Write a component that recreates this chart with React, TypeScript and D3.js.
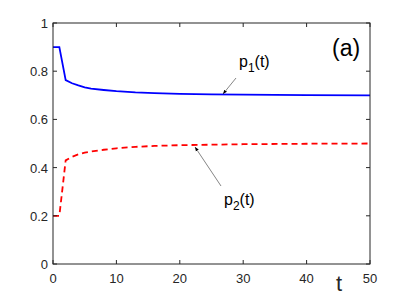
import React from "react";
import * as d3 from "d3";

// time points
const tValues = [0, 1, 2, 3, 4, 5, 6, 8, 10, 13, 16, 20, 25, 30, 40, 50];
const p1Values = [0.9, 0.9, 0.763, 0.75, 0.741, 0.733, 0.728, 0.722, 0.717, 0.712, 0.709, 0.706, 0.704, 0.703, 0.701, 0.7];
const p2Values = [0.2, 0.2, 0.43, 0.445, 0.455, 0.462, 0.467, 0.474, 0.48, 0.486, 0.49, 0.493, 0.495, 0.497, 0.499, 0.5];
const xTicks = [0, 10, 20, 30, 40, 50];
const yTicks = [0, 0.2, 0.4, 0.6, 0.8, 1];

const width = 409;
const height = 298;
const margin = { left: 53, right: 39, top: 23, bottom: 34 };
const axisColor = "#262626";
const font = "'Liberation Sans', Arial, sans-serif";

export default function App() {
  const x = d3.scaleLinear().domain([0, 50]).range([margin.left, width - margin.right]);
  const y = d3.scaleLinear().domain([0, 1]).range([height - margin.bottom, margin.top]);

  const line = d3
    .line<number>()
    .x((d, i) => x(tValues[i]))
    .y((d) => y(d));

  const x0 = x(0), x1 = x(50), y0 = y(0), y1 = y(1);

  return (
    <svg
      width={width}
      height={height}
      style={{ position: "absolute", left: 0, top: 0, background: "#fff" }}
    >
      <defs>
        <marker id="arr" viewBox="0 0 10 10" refX="10" refY="5" markerWidth="7" markerHeight="7" orient="auto-start-reverse">
          <path d="M0,1 L10,5 L0,9 Z" fill="#000" />
        </marker>
      </defs>
      <rect x={0} y={0} width={width} height={height} fill="#fff" />

      <path d={line(p1Values) || ""} fill="none" stroke="#0000ff" strokeWidth={1.8} />
      <path d={line(p2Values) || ""} fill="none" stroke="#ff0000" strokeWidth={1.8} strokeDasharray="6,4" />

      {/* box */}
      <rect x={x0} y={y1} width={x1 - x0} height={y0 - y1} fill="none" stroke={axisColor} strokeWidth={1} />

      {xTicks.map((t) => (
        <g key={"x" + t}>
          <line x1={x(t)} x2={x(t)} y1={y0} y2={y0 - 4} stroke={axisColor} />
          <line x1={x(t)} x2={x(t)} y1={y1} y2={y1 + 4} stroke={axisColor} />
          <text x={x(t)} y={y0 + 19} textAnchor="middle" fontSize={13} fill={axisColor} fontFamily={font}>
            {t}
          </text>
        </g>
      ))}
      {yTicks.map((v) => (
        <g key={"y" + v}>
          <line x1={x0} x2={x0 + 4} y1={y(v)} y2={y(v)} stroke={axisColor} />
          <line x1={x1} x2={x1 - 4} y1={y(v)} y2={y(v)} stroke={axisColor} />
          <text x={x0 - 5} y={y(v) + 5} textAnchor="end" fontSize={13} fill={axisColor} fontFamily={font}>
            {v}
          </text>
        </g>
      ))}

      <text x={336} y={291} fontSize={22} fill={axisColor} fontFamily={font}>t</text>
      <text x={332} y={56} fontSize={23} fill="#000" fontFamily={font}>(a)</text>

      {/* annotations */}
      <text x={239} y={67} fontSize={16} fill="#000" fontFamily={font}>
        p<tspan fontSize={12} dy={5}>1</tspan><tspan dy={-5}>(t)</tspan>
      </text>
      <line x1={236} y1={78} x2={223} y2={94} stroke="#333" strokeWidth={0.6} markerEnd="url(#arr)" />

      <text x={224} y={205} fontSize={16} fill="#000" fontFamily={font}>
        p<tspan fontSize={12} dy={5}>2</tspan><tspan dy={-5}>(t)</tspan>
      </text>
      <line x1={221} y1={186} x2={195} y2={147} stroke="#333" strokeWidth={0.6} markerEnd="url(#arr)" />
    </svg>
  );
}
